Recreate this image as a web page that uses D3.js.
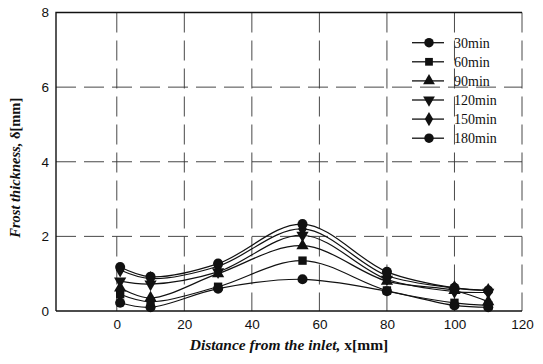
<!DOCTYPE html>
<html>
<head>
<meta charset="utf-8">
<script src="https://cdn.jsdelivr.net/npm/d3@7"></script>
<style>
  html, body { margin: 0; padding: 0; background: #fff; }
  svg { display: block; }
</style>
</head>
<body>
<svg id="chart" width="543" height="364"></svg>
<script>
// Measurement positions along the channel [mm]
const positions = [1, 10, 30, 55, 80, 100, 110];

// Frost thickness [mm] at each position, one array per elapsed time
const t30  = [0.22, 0.10, 0.60, 0.85, 0.53, 0.15, 0.10];
const t60  = [0.45, 0.25, 0.65, 1.35, 0.55, 0.22, 0.15];
const t90  = [0.62, 0.35, 1.00, 1.75, 0.80, 0.55, 0.25];
const t120 = [0.80, 0.72, 1.05, 2.03, 0.85, 0.52, 0.50];
const t150 = [1.10, 0.87, 1.20, 2.20, 0.95, 0.62, 0.55];
const t180 = [1.18, 0.92, 1.27, 2.33, 1.05, 0.62, 0.55];

const seriesNames = ["30min", "60min", "90min", "120min", "150min", "180min"];
const seriesValues = [t30, t60, t90, t120, t150, t180];
const seriesSymbols = [d3.symbolCircle, d3.symbolSquare, d3.symbolTriangle,
                       "triangleDown", d3.symbolDiamond, d3.symbolCircle];

const xTicks = [0, 20, 40, 60, 80, 100, 120];
const yTicks = [0, 2, 4, 6, 8];

const svg = d3.select("#chart");
const plot = { left: 56, right: 522, top: 12.5, bottom: 311 };

const x = d3.scaleLinear().domain([-18, 120]).range([plot.left, plot.right]);
const y = d3.scaleLinear().domain([0, 8]).range([plot.bottom, plot.top]);

const ink = "#111";

// dashed grid
const grid = svg.append("g");
grid.selectAll("line.h").data(yTicks.filter(v => v > 0 && v < 8)).join("line")
  .attr("x1", plot.left).attr("x2", plot.right)
  .attr("y1", d => y(d)).attr("y2", d => y(d))
  .attr("stroke", "#333").attr("stroke-width", 0.9)
  .attr("stroke-dasharray", "20,8");
grid.selectAll("line.v").data(xTicks).join("line")
  .attr("x1", d => x(d)).attr("x2", d => x(d))
  .attr("y1", plot.top).attr("y2", plot.bottom)
  .attr("stroke", "#333").attr("stroke-width", 0.9)
  .attr("stroke-dasharray", "20,8");

// frame (left, top, bottom solid)
svg.append("path")
  .attr("d", `M${plot.left},${plot.bottom}V${plot.top}H${plot.right}`)
  .attr("fill", "none").attr("stroke", ink).attr("stroke-width", 1.4);
svg.append("line")
  .attr("x1", plot.left).attr("x2", plot.right)
  .attr("y1", plot.bottom).attr("y2", plot.bottom)
  .attr("stroke", ink).attr("stroke-width", 1.4);

// axes (labels only, lines drawn as frame)
const xAxis = d3.axisBottom(x).tickValues(xTicks).tickSize(0).tickPadding(8);
const gx = svg.append("g").attr("transform", `translate(0,${plot.bottom})`).call(xAxis);
const yAxis = d3.axisLeft(y).tickValues(yTicks).tickSize(0).tickPadding(7);
const gy = svg.append("g").attr("transform", `translate(${plot.left},0)`).call(yAxis);
[gx, gy].forEach(g => {
  g.select(".domain").remove();
  g.selectAll("text").attr("font-family", "Arial, 'Liberation Sans', sans-serif")
    .attr("font-size", 13.5).attr("fill", ink);
});

// symbol generator with a downward triangle
function symbolPath(type, size) {
  if (type === "triangleDown") {
    return d3.symbol(d3.symbolTriangle, size)();
  }
  return d3.symbol(type, size)();
}
function symbolTransform(type, px, py) {
  return type === "triangleDown"
    ? `translate(${px},${py}) rotate(180)`
    : `translate(${px},${py})`;
}

const line = d3.line()
  .x(d => x(d[0])).y(d => y(d[1]))
  .curve(d3.curveCatmullRom.alpha(0.5));

const series = svg.append("g");
seriesValues.forEach((vals, i) => {
  const pts = positions.map((p, j) => [p, vals[j]]);
  series.append("path").datum(pts)
    .attr("d", line).attr("fill", "none")
    .attr("stroke", ink).attr("stroke-width", 1.2);
});
seriesValues.forEach((vals, i) => {
  const type = seriesSymbols[i];
  const size = type === d3.symbolCircle ? 80 : (type === d3.symbolSquare ? 70 : 65);
  series.append("g").selectAll("path").data(positions.map((p, j) => [p, vals[j]])).join("path")
    .attr("d", symbolPath(type, size))
    .attr("transform", d => symbolTransform(type, x(d[0]), y(d[1])))
    .attr("fill", ink);
});

// legend
const legend = svg.append("g");
seriesNames.forEach((name, i) => {
  const ly = 42.7 + i * 19.1;
  const type = seriesSymbols[i];
  legend.append("line")
    .attr("x1", 412).attr("x2", 444).attr("y1", ly).attr("y2", ly)
    .attr("stroke", ink).attr("stroke-width", 1.3);
  const size = type === d3.symbolCircle ? 70 : 60;
  legend.append("path")
    .attr("d", symbolPath(type, size))
    .attr("transform", symbolTransform(type, 429, ly))
    .attr("fill", ink);
  legend.append("text")
    .attr("x", 454).attr("y", ly).attr("dy", "0.35em")
    .attr("font-family", "'Times New Roman', 'Liberation Serif', serif")
    .attr("font-size", 14).attr("fill", ink)
    .text(name);
});

// axis titles
const xt = svg.append("text")
  .attr("x", 289).attr("y", 350)
  .attr("text-anchor", "middle")
  .attr("font-family", "'Times New Roman', 'Liberation Serif', serif")
  .attr("font-size", 15.5).attr("font-weight", "bold").attr("fill", ink);
xt.append("tspan").attr("font-style", "italic").text("Distance from the inlet, ");
xt.append("tspan").text("x[mm]");

const yt = svg.append("text")
  .attr("transform", `translate(20,${(plot.top + plot.bottom) / 2 + 6}) rotate(-90)`)
  .attr("text-anchor", "middle")
  .attr("font-family", "'Times New Roman', 'Liberation Serif', serif")
  .attr("font-size", 14.5).attr("font-weight", "bold").attr("fill", ink);
yt.append("tspan").attr("font-style", "italic").text("Frost thickness, ");
yt.append("tspan").text("δ[mm]");
</script>
</body>
</html>
